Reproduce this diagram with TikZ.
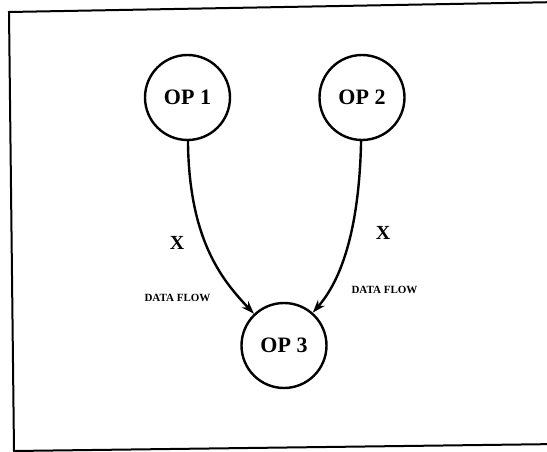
\documentclass[tikz,border=0pt]{standalone}
\usepackage{fontspec}
\setmainfont{Liberation Serif}
\usetikzlibrary{arrows.meta}

\begin{document}
\begin{tikzpicture}[x=1pt, y=-1pt, node distance={174.5pt}, line width=2.4pt, >={Stealth[length=13pt, width=9pt]}, main/.style = {draw, circle, minimum size=85pt, inner sep=0pt, font=\fontsize{22}{22}\selectfont\bfseries}, lbl/.style = {font=\fontsize{20}{20}\selectfont\bfseries}, flow/.style = {font=\fontsize{11}{11}\selectfont\bfseries}]

        \useasboundingbox (0,0) rectangle (547,452);
        \clip (0,0) rectangle (547,452);
        \draw[line width=2pt] (9,12) -- (14,451) -- (560,444) -- (560,2) -- cycle;

        \node[main] (1) at (187.5,97.5) {OP 1};
        \node[main] (2) [right of=1] {OP 2};
        \node[main] (3) at (284,345.5) {OP 3};

        \node[lbl] (x1) at (177,243) {X};
        \node[lbl] (x2) at (383,233) {X};
        \node[flow] (f1) at (177.5,298) {DATA FLOW};
        \node[flow] (f2) at (384.5,290) {DATA FLOW};

        \draw[->] (1) .. controls (189,240) and (222,280) .. (3);
        \draw[->] (2) .. controls (359,240) and (337,285) .. (3);

    \end{tikzpicture}
\end{document}
